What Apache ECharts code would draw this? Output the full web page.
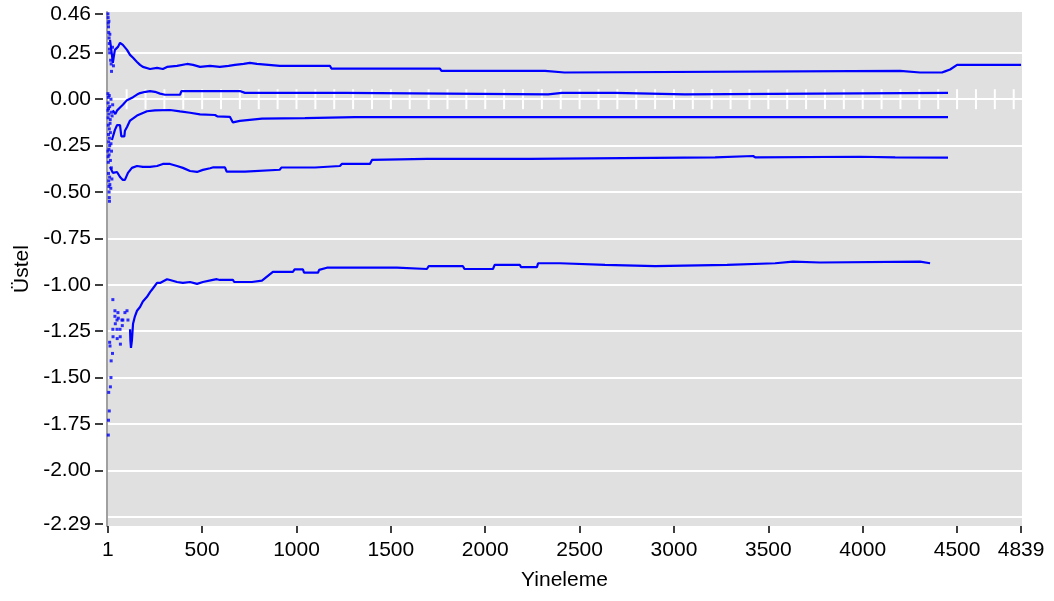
<!DOCTYPE html>
<html><head><meta charset="utf-8">
<script src="https://cdn.jsdelivr.net/npm/echarts@6/dist/echarts.min.js"></script>
<style>html,body{margin:0;padding:0;background:#fff}#c{width:1054px;height:601px}</style>
</head><body><div id="c"></div>
<script>
// ---- tick labels / grid positions ----
const xTickLabels = [1, 500, 1000, 1500, 2000, 2500, 3000, 3500, 4000, 4500, 4839];
const yTickLabels = [0.46, 0.25, 0, -0.25, -0.5, -0.75, -1, -1.25, -1.5, -1.75, -2, -2.29];
const yGridValues = [0.25, 0, -0.25, -0.5, -0.75, -1, -1.25, -1.5, -1.75, -2, -2.25];
const zeroTickValues = [100,200,300,400,500,600,700,800,900,1000,1100,1200,1300,1400,1500,1600,1700,1800,1900,2000,
  2100,2200,2300,2400,2500,2600,2700,2800,2900,3000,3100,3200,3300,3400,3500,3600,3700,3800,3900,4000,
  4100,4200,4300,4400,4500,4600,4700,4800];

// ---- series 1 (top, ~0.17) ----
const s1Early = [[1,0.46],[2,0.44],[3,0.41],[4,0.39],[5,0.36],[6,0.42],[7,0.33],[8,0.30],[9,0.27],[10,0.25],[11,0.35],[15,0.21],[18,0.19],[20,0.15],[25,0.28],[30,0.18]];
const s1Line = [[12,0.32],[22,0.24],[27,0.196],[32,0.23],[38,0.266],[54,0.282],[65,0.304],[75,0.309],[80,0.293],[102,0.266],[118,0.239],[134,0.223],[155,0.201],[171,0.185],[186,0.174],[224,0.163],[261,0.169],[292,0.163],[314,0.174],[367,0.18],[420,0.19],[452,0.185],[489,0.174],[542,0.18],[594,0.174],[640,0.18],[674,0.185],[720,0.19],[753,0.196],[790,0.19],[912,0.18],[1177,0.18],[1185,0.165],[1760,0.165],[1768,0.153],[2317,0.153],[2320,0.144],[2420,0.144],[2423,0.153],[4198,0.153],[4304,0.144],[4420,0.144],[4436,0.15],[4463,0.16],[4500,0.185],[4839,0.185]];

// ---- series 2 (~0.03) ----
const s2Early = [[1,0.03],[2,-0.02],[3,0.01],[4,-0.05],[6,-0.08],[8,0.02],[10,-0.04],[13,-0.11],[17,0.0],[20,-0.07],[23,-0.09],[26,-0.03]];
const s2Line = [[27,-0.06],[40,-0.08],[50,-0.06],[65,-0.045],[80,-0.03],[102,-0.005],[134,0.011],[155,0.025],[171,0.033],[200,0.04],[224,0.044],[250,0.04],[277,0.03],[303,0.024],[383,0.024],[390,0.044],[700,0.044],[727,0.034],[1257,0.034],[1265,0.026],[2333,0.026],[2340,0.031],[2407,0.034],[2688,0.034],[2695,0.026],[3058,0.026],[3065,0.034],[4452,0.034]];

// ---- series 3 (~-0.10) ----
const s3Early = [[1,-0.06],[2,-0.10],[3,-0.14],[4,-0.19],[5,-0.23],[6,-0.27],[7,-0.30],[8,-0.16],[9,-0.21],[10,-0.25],[12,-0.13],[14,-0.18],[17,-0.24],[20,-0.28]];
const s3Line = [[22,-0.22],[38,-0.165],[49,-0.14],[65,-0.14],[72,-0.20],[80,-0.21],[88,-0.20],[91,-0.17],[102,-0.15],[118,-0.115],[155,-0.088],[208,-0.065],[250,-0.06],[330,-0.058],[383,-0.066],[436,-0.073],[489,-0.082],[568,-0.085],[580,-0.092],[647,-0.095],[663,-0.125],[700,-0.117],[817,-0.105],[1045,-0.102],[1310,-0.097],[4452,-0.097]];

// ---- series 4 (~-0.33) ----
const s4Early = [[1,-0.28],[2,-0.31],[3,-0.34],[4,-0.40],[5,-0.44],[6,-0.47],[7,-0.50],[8,-0.53],[9,-0.55],[10,-0.42],[11,-0.46],[14,-0.33],[16,-0.48],[19,-0.37],[22,-0.43]];
const s4Line = [[12,-0.365],[27,-0.397],[49,-0.392],[65,-0.419],[80,-0.435],[91,-0.435],[107,-0.397],[128,-0.37],[155,-0.36],[186,-0.365],[224,-0.365],[261,-0.36],[292,-0.349],[330,-0.349],[367,-0.36],[398,-0.37],[436,-0.387],[473,-0.392],[504,-0.381],[542,-0.372],[560,-0.367],[621,-0.367],[630,-0.39],[727,-0.39],[735,-0.38],[912,-0.38],[920,-0.368],[1098,-0.368],[1105,-0.36],[1230,-0.36],[1240,-0.349],[1389,-0.349],[1400,-0.327],[1691,-0.322],[2237,-0.322],[2245,-0.313],[3218,-0.313],[3225,-0.306],[3419,-0.306],[3430,-0.313],[3986,-0.31],[4172,-0.313],[4452,-0.315]];

// ---- series 5 (bottom, ~-0.9) ----
const s5Early = [[3,-1.81],[4,-1.73],[8,-1.68],[5,-1.58],[14,-1.55],[17,-1.50],[18,-1.41],[25,-1.37],[10,-1.31],[12,-1.33],[27,-1.24],[28,-1.28],[27,-1.08],[38,-1.14],[38,-1.17],[40,-1.21],[49,-1.19],[49,-1.24],[50,-1.29],[54,-1.15],[56,-1.18],[65,-1.24],[66,-1.28],[67,-1.32],[75,-1.19],[77,-1.22],[80,-1.19],[91,-1.15],[102,-1.14],[107,-1.19]];
const s5Line = [[118,-1.24],[120,-1.30],[123,-1.34],[128,-1.30],[134,-1.21],[144,-1.17],[155,-1.14],[171,-1.12],[186,-1.09],[208,-1.065],[224,-1.04],[239,-1.02],[261,-0.99],[277,-0.99],[314,-0.97],[330,-0.974],[367,-0.985],[398,-0.99],[436,-0.985],[473,-0.995],[504,-0.985],[557,-0.974],[578,-0.97],[594,-0.974],[663,-0.974],[670,-0.985],[764,-0.985],[817,-0.978],[875,-0.93],[981,-0.93],[990,-0.917],[1034,-0.917],[1040,-0.935],[1114,-0.935],[1120,-0.92],[1161,-0.908],[1532,-0.908],[1540,-0.915],[1691,-0.915],[1700,-0.90],[1882,-0.90],[1890,-0.915],[2041,-0.915],[2050,-0.893],[2184,-0.893],[2190,-0.905],[2274,-0.905],[2280,-0.884],[2396,-0.884],[2400,-0.893],[2635,-0.893],[2640,-0.899],[2900,-0.899],[2905,-0.893],[3282,-0.893],[3290,-0.884],[3536,-0.884],[3540,-0.875],[3631,-0.875],[3640,-0.88],[3774,-0.88],[3780,-0.875],[4304,-0.875],[4310,-0.884],[4357,-0.884]];

const BLUE = '#0000FF';
const FONT = '"Liberation Sans", Arial, sans-serif';
const FS = 21;
const lines = [s1Line, s2Line, s3Line, s4Line, s5Line];
const earlies = [s1Early, s2Early, s3Early, s4Early, s5Early];

const series = [];
series.push({
  type: 'custom', coordinateSystem: 'cartesian2d', silent: true, z: 1,
  data: zeroTickValues.map(v => [v, 0]),
  renderItem: function (params, api) {
    const p = api.coord([api.value(0), api.value(1)]);
    return { type: 'line', shape: { x1: p[0], y1: p[1] - 10, x2: p[0], y2: p[1] + 10 },
             style: { stroke: '#FFFFFF', lineWidth: 2 } };
  }
});
lines.forEach(d => series.push({
  type: 'line', data: d, showSymbol: false, symbol: 'none', z: 3,
  lineStyle: { color: BLUE, width: 2.2 }, itemStyle: { color: BLUE }
}));
earlies.forEach(d => series.push({
  type: 'scatter', data: d, symbol: 'rect', symbolSize: 3, z: 3,
  itemStyle: { color: BLUE }
}));

const YMIN = -2.3, YMAX = 0.47;
const option = {
  animation: false,
  backgroundColor: '#FFFFFF',
  grid: { left: 107, right: 32, top: 12, bottom: 75, show: true, backgroundColor: '#E0E0E0', borderWidth: 0,
          containLabel: false, outerBoundsMode: 'none' },
  xAxis: [{
    type: 'value', min: -4, max: 4844, position: 'bottom',
    name: 'Yineleme', nameLocation: 'middle', nameGap: 44,
    nameTextStyle: { color: '#000', fontSize: FS, fontFamily: FONT },
    axisLine: { show: false, onZero: false },
    axisTick: { show: true, length: 7, lineStyle: { color: '#000', width: 1.5 }, customValues: xTickLabels },
    axisLabel: { customValues: xTickLabels, margin: 14, color: '#000', fontSize: FS, fontFamily: FONT,
      showMinLabel: true, showMaxLabel: true, hideOverlap: false, formatter: v => String(v) },
    splitLine: { show: false }
  }],
  yAxis: [{
    type: 'value', min: YMIN, max: YMAX, position: 'left', offset: 4,
    name: 'Üstel', nameLocation: 'middle', nameGap: 66,
    nameTextStyle: { color: '#000', fontSize: FS, fontFamily: FONT },
    axisLine: { show: false, onZero: false },
    axisTick: { show: true, length: 8, lineStyle: { color: '#000', width: 1.5 }, customValues: yTickLabels },
    axisLabel: { customValues: yTickLabels, margin: 12, color: '#000', fontSize: FS, fontFamily: FONT,
      hideOverlap: false, formatter: v => v.toFixed(2) },
    splitLine: { show: false }
  }, {
    type: 'value', min: YMIN, max: YMAX, position: 'left', offset: 0,
    axisLine: { show: true, onZero: false, lineStyle: { color: '#A0A0A0', width: 2 } },
    axisTick: { show: false, customValues: yGridValues },
    axisLabel: { show: false, customValues: yGridValues },
    splitLine: { show: true, lineStyle: { color: '#FFFFFF', width: 2 } }
  }],
  series: series
};
echarts.init(document.getElementById('c')).setOption(option);
</script></body></html>
